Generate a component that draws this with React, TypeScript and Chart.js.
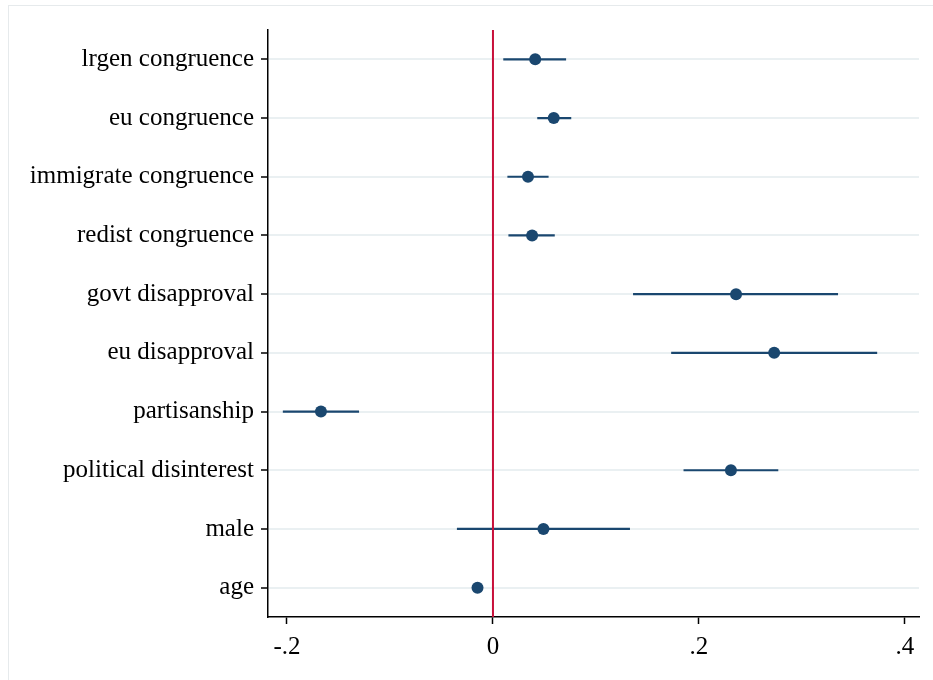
import React, { useEffect, useRef } from "react";
import { Chart, registerables } from "chart.js";

Chart.register(...registerables);

const labels = [
  "lrgen congruence",
  "eu congruence",
  "immigrate congruence",
  "redist congruence",
  "govt disapproval",
  "eu disapproval",
  "partisanship",
  "political disinterest",
  "male",
  "age",
];
const estimates = [0.041, 0.059, 0.034, 0.038, 0.236, 0.273, -0.167, 0.231, 0.049, -0.015];
const lower = [0.01, 0.043, 0.014, 0.015, 0.136, 0.173, -0.204, 0.185, -0.035, -0.017];
const upper = [0.071, 0.076, 0.054, 0.06, 0.335, 0.373, -0.13, 0.277, 0.133, -0.013];
const xTicks = [-0.2, 0, 0.2, 0.4];
const xTickLabels = ["-.2", "0", ".2", ".4"];
const refValue = 0;

const NAVY = "#1a476f";
const RED = "#c8103a";
const GRID = "#eaf0f2";
const FONT = { family: "'Liberation Serif', serif", size: 25 };

export default function App() {
  const ref = useRef<HTMLCanvasElement | null>(null);

  useEffect(() => {
    document.body.style.margin = "0";
    const ctx = ref.current!;
    const ciSets = labels.map((_, i) => ({
      type: "scatter" as const,
      data: [
        { x: lower[i], y: i + 1 },
        { x: upper[i], y: i + 1 },
      ],
      showLine: true,
      borderColor: NAVY,
      borderWidth: 2.2,
      pointRadius: 0,
      pointHoverRadius: 0,
      order: 3,
    }));
    const chart = new Chart(ctx, {
      type: "scatter",
      data: {
        datasets: [
          {
            data: estimates.map((v, i) => ({ x: v, y: i + 1 })),
            backgroundColor: NAVY,
            borderColor: NAVY,
            pointRadius: 6,
            borderWidth: 0,
            order: 0,
          },
          {
            data: [
              { x: refValue, y: 0.5 },
              { x: refValue, y: labels.length + 0.5 },
            ],
            showLine: true,
            borderColor: RED,
            borderWidth: 2,
            pointRadius: 0,
            order: 1,
          },
          ...ciSets,
        ] as any,
      },
      options: {
        animation: false,
        responsive: false,
        events: [],
        layout: { padding: { top: 30, right: 14, left: 0, bottom: 0 } },
        plugins: { legend: { display: false }, tooltip: { enabled: false } },
        scales: {
          x: {
            type: "linear",
            min: -0.2184,
            max: 0.4136,
            afterBuildTicks: (s: any) => {
              s.ticks = xTicks.map((v) => ({ value: v }));
            },
            afterFit: (s: any) => {
              s.height = 63;
            },
            ticks: {
              callback: (v: any) => {
                const i = xTicks.indexOf(Number(v));
                return i >= 0 ? xTickLabels[i] : "";
              },
              font: FONT,
              color: "#000",
              padding: 8,
              maxRotation: 0,
              autoSkip: false,
            },
            grid: { drawOnChartArea: false, tickLength: 7, tickColor: "#000", tickWidth: 1.5 },
            border: { color: "#000", width: 1.5 },
          },
          y: {
            type: "linear",
            min: 0.5,
            max: labels.length + 0.5,
            reverse: true,
            afterBuildTicks: (s: any) => {
              s.ticks = labels.map((_, i) => ({ value: i + 1 }));
            },
            afterFit: (s: any) => {
              s.width = 268;
            },
            ticks: {
              callback: (v: any) => labels[Number(v) - 1] ?? "",
              font: FONT,
              color: "#000",
              padding: 7,
              autoSkip: false,
            },
            grid: { color: GRID, lineWidth: 2, tickLength: 7, tickColor: "#000", tickWidth: 1.5 },
            border: { color: "#000", width: 1.5 },
          },
        },
      },
    });
    return () => chart.destroy();
  }, []);

  return (
    <div>
      <div
        style={{
          position: "absolute",
          left: 8,
          top: 5,
          width: 925,
          height: 675,
          borderLeft: "1px solid #e6eaec",
          borderTop: "1px solid #e6eaec",
          boxSizing: "border-box",
        }}
      />
      <canvas
        ref={ref}
        width={933}
        height={680}
        style={{ position: "absolute", left: 0, top: 0, width: 933, height: 680 }}
      />
    </div>
  );
}
